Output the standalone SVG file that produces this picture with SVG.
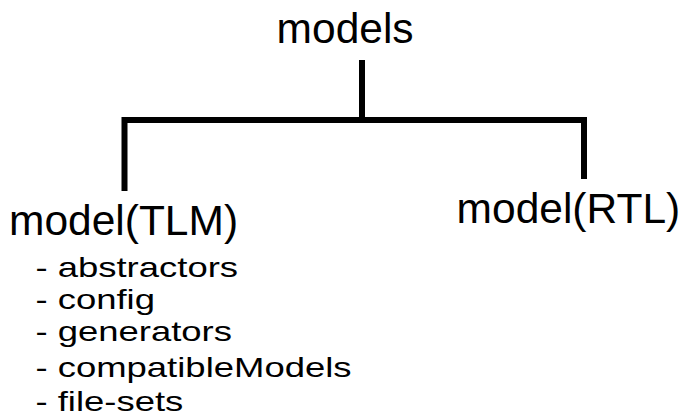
<svg xmlns="http://www.w3.org/2000/svg" width="689" height="414" viewBox="0 0 689 414">
  <style>
    .bg { fill: #ffffff; }
    .head { font-family: "Liberation Sans", Arial, sans-serif; font-size: 42.5px; fill: #000000; }
    .item { font-family: "Liberation Sans", Arial, sans-serif; font-size: 28.5px; fill: #000000; }
    .link { fill: none; stroke: #000000; stroke-width: 6; stroke-linejoin: miter; stroke-linecap: butt; }
  </style>
  <rect class="bg" x="0" y="0" width="689" height="414"/>

  <!-- tree connectors -->
  <g id="connectors">
    <path class="link" d="M362,60 V120"/>
    <path class="link" d="M124.5,191 V120 H584 V179"/>
  </g>

  <!-- root -->
  <g id="node-models">
    <text class="head" x="276.6" y="43.3">models</text>
  </g>

  <!-- TLM model with its contents -->
  <g id="node-model-tlm">
    <text class="head" x="9" y="235">model(TLM)</text>
    <!-- sub-items are set in a horizontally widened face -->
    <g transform="matrix(1.28 0 0 1 35.4 0)">
      <text class="item" x="0" y="277">- abstractors</text>
      <text class="item" x="0" y="308.8">- config</text>
      <text class="item" x="0" y="340.8">- generators</text>
      <text class="item" x="0" y="376.8">- compatibleModels</text>
      <text class="item" x="0" y="411.5">- file-sets</text>
    </g>
  </g>

  <!-- RTL model -->
  <g id="node-model-rtl">
    <text class="head" x="456.6" y="223.3">model(RTL)</text>
  </g>
</svg>
